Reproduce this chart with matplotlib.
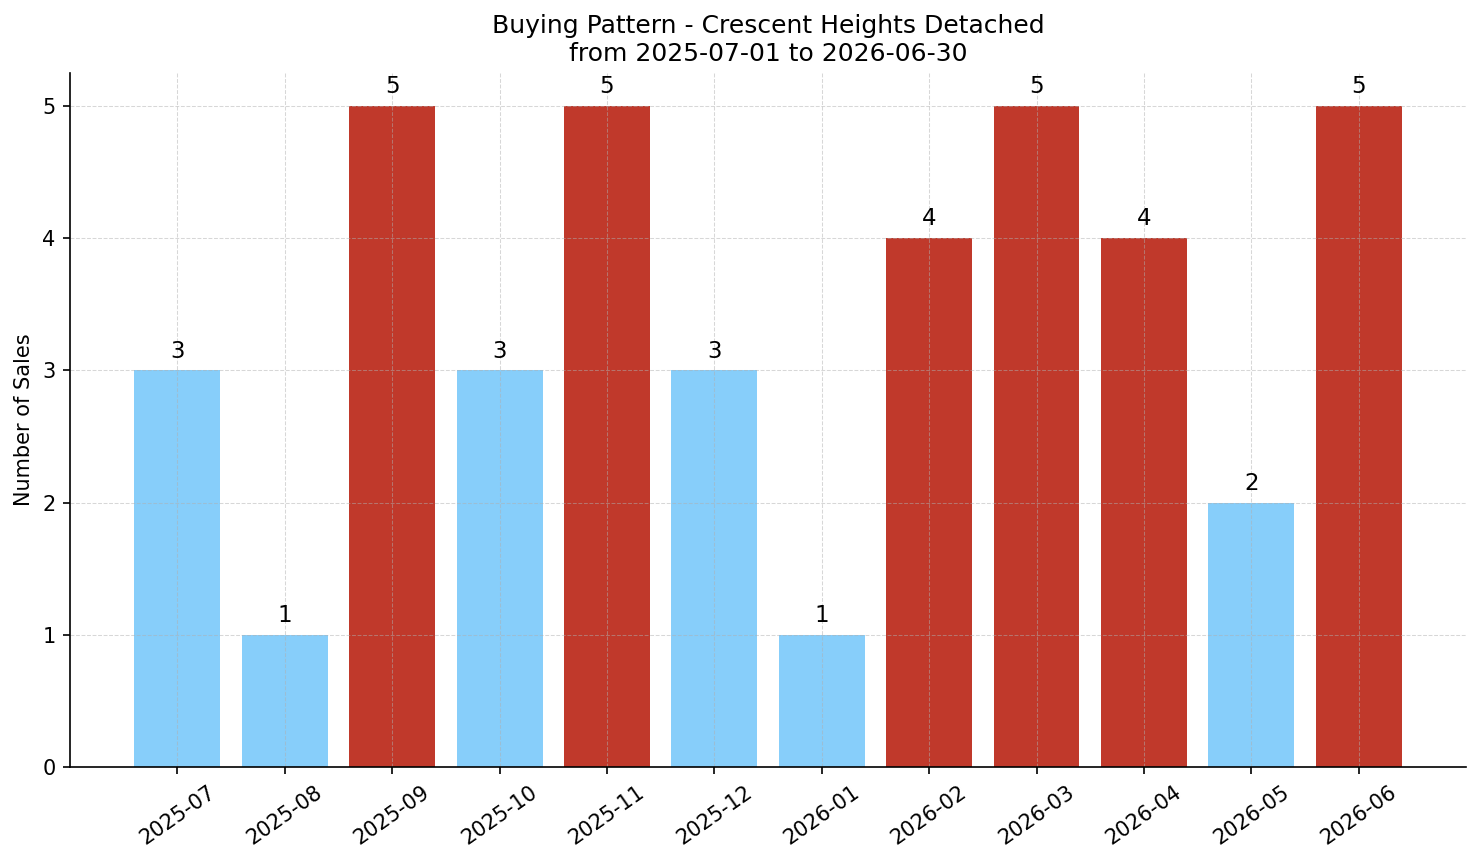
import matplotlib.pyplot as plt
import numpy as np

months = ['2025-07', '2025-08', '2025-09', '2025-10', '2025-11', '2025-12',
          '2026-01', '2026-02', '2026-03', '2026-04', '2026-05', '2026-06']
sales = [3, 1, 5, 3, 5, 3, 1, 4, 5, 4, 2, 5]

# high months (>=4) are red, the rest light blue
colors = ['#c0392b' if s >= 4 else '#87cefa' for s in sales]

fig = plt.figure(figsize=(1481 / 150, 863 / 150), dpi=150)
ax = fig.add_axes([0.0473, 0.1112, 0.9426, 0.8042])

x = np.arange(len(months))
bars = ax.bar(x, sales, width=0.8, color=colors)
for b, s in zip(bars, sales):
    ax.text(b.get_x() + b.get_width() / 2, s + 0.06, str(s),
            ha='center', va='bottom', fontsize=11)

ax.set_xticks(x)
ax.set_xticklabels(months, rotation=35, ha='center')
ax.set_xlim(-1, 12)
ax.set_ylim(0, 5.25)
ax.set_ylabel('Number of Sales')
ax.set_title('Buying Pattern - Crescent Heights Detached\nfrom 2025-07-01 to 2026-06-30', fontsize=12)
ax.grid(True, linestyle='--', linewidth=0.5, color='#b0b0b0', alpha=0.5)
ax.spines['top'].set_visible(False)
ax.spines['right'].set_visible(False)

fig.savefig('out.png', dpi=150)
